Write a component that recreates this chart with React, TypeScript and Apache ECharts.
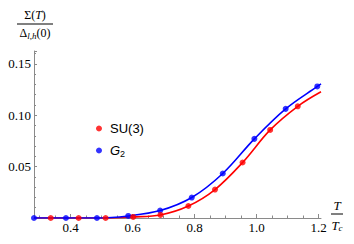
import React, { useEffect, useRef } from "react";
import * as echarts from "echarts";

// Data
const suTemps = [0.336, 0.426, 0.513, 0.602, 0.69, 0.78, 0.866, 0.955, 1.044, 1.133];
const suValues = [0, 0, 0, 0.001, 0.003, 0.0117, 0.0277, 0.054, 0.0857, 0.1087];
const g2Temps = [0.282, 0.385, 0.485, 0.586, 0.689, 0.791, 0.891, 0.993, 1.094, 1.196];
const g2Values = [0, 0, 0, 0.002, 0.0072, 0.0199, 0.0433, 0.077, 0.1062, 0.128];
// Fit-curve end points (beyond the dots)
const suCurveTemps = [0.282, ...suTemps, 1.208];
const suCurveValues = [0, ...suValues, 0.1228];
const g2CurveTemps = [...g2Temps, 1.208];
const g2CurveValues = [...g2Values, 0.1305];

const xMajorTicks = [0.4, 0.6, 0.8, 1.0, 1.2];
const xMinorTicks = [0.3, 0.35, 0.45, 0.5, 0.55, 0.65, 0.7, 0.75, 0.85, 0.9, 0.95, 1.05, 1.1, 1.15];
const xMin = 0.282;
const xMax = 1.208;
const yMax = 0.1625;

const RED = "#ff0000";
const BLUE = "#0000ff";
const AXIS = "#8a8a8a";
const SERIF = "'Liberation Serif', 'DejaVu Serif', serif";
const SANS = "'Liberation Sans', Arial, sans-serif";

const zip = (xs: number[], ys: number[]) => xs.map((x, i) => [x, ys[i]]);

export default function App() {
  const ref = useRef<HTMLDivElement>(null);
  useEffect(() => {
    if (!ref.current) return;
    const chart = echarts.init(ref.current, null, { renderer: "svg" });
    const baseX = {
      type: "value",
      min: xMin,
      max: xMax,
      gridIndex: 0,
      position: "bottom",
      splitLine: { show: false },
    };
    chart.setOption({
      animation: false,
      grid: { left: 34, right: 33, top: 51, bottom: 26 },
      legend: {
        orient: "vertical",
        left: 91,
        top: 117,
        itemWidth: 12,
        itemHeight: 6,
        itemGap: 9,
        icon: "circle",
        data: ["SU(3)", "G2"],
        formatter: (n: string) => (n === "G2" ? "{i|G}{s|2}" : n),
        textStyle: {
          fontFamily: SANS,
          fontSize: 13,
          color: "#000",
          rich: {
            i: { fontFamily: SANS, fontSize: 13, fontStyle: "italic", color: "#000" },
            s: { fontFamily: SANS, fontSize: 9, color: "#000", padding: [6, 0, 0, 0] },
          },
        },
      },
      xAxis: [
        {
          ...baseX,
          axisLine: { show: true, lineStyle: { color: AXIS, width: 1 } },
          axisTick: {
            show: true,
            inside: true,
            length: 4,
            customValues: xMajorTicks,
            lineStyle: { color: AXIS },
          },
          axisLabel: {
            show: true,
            customValues: xMajorTicks,
            formatter: (v: number) => v.toFixed(1),
            fontFamily: SERIF,
            fontSize: 13,
            color: "#000",
            margin: 3,
          },
        },
        {
          ...baseX,
          axisLine: { show: false },
          axisLabel: { show: false },
          axisTick: {
            show: true,
            inside: true,
            length: 2.5,
            customValues: xMinorTicks,
            lineStyle: { color: AXIS },
          },
        },
      ],
      yAxis: {
        type: "value",
        min: 0,
        max: yMax,
        interval: 0.05,
        splitLine: { show: false },
        axisLine: { show: true, lineStyle: { color: AXIS, width: 1 } },
        axisTick: { show: true, inside: true, length: 3, lineStyle: { color: AXIS } },
        minorTick: { show: true, splitNumber: 5, length: 2, lineStyle: { color: AXIS } },
        axisLabel: {
          showMinLabel: false,
          showMaxLabel: false,
          formatter: (v: number) => (v === 0 ? "" : v.toFixed(2)),
          fontFamily: SERIF,
          fontSize: 13,
          color: "#000",
          margin: 3,
        },
      },
      series: [
        {
          name: "SU(3) fit",
          type: "line",
          data: zip(suCurveTemps, suCurveValues),
          showSymbol: false,
          smooth: 0.35,
          lineStyle: { color: RED, width: 1.6 },
          itemStyle: { color: RED },
          z: 2,
        },
        {
          name: "G2 fit",
          type: "line",
          data: zip(g2CurveTemps, g2CurveValues),
          showSymbol: false,
          smooth: 0.35,
          lineStyle: { color: BLUE, width: 1.6 },
          itemStyle: { color: BLUE },
          z: 3,
        },
        {
          name: "G2",
          type: "scatter",
          data: zip(g2Temps, g2Values),
          symbol: "circle",
          symbolSize: 6,
          itemStyle: { color: BLUE },
          z: 4,
        },
        {
          name: "SU(3)",
          type: "scatter",
          data: zip(suTemps, suValues),
          symbol: "circle",
          symbolSize: 6,
          itemStyle: { color: RED },
          z: 5,
        },
      ],
      graphic: [
        {
          type: "text",
          x: 35,
          y: 15,
          style: {
            text: "Σ({i|T})",
            font: `12px ${SERIF}`,
            fill: "#000",
            align: "center",
            verticalAlign: "middle",
            rich: { i: { fontStyle: "italic", fontFamily: SERIF, fontSize: 12 } },
          },
        },
        {
          type: "line",
          shape: { x1: 17, y1: 24, x2: 53, y2: 24 },
          style: { stroke: "#000", lineWidth: 1 },
        },
        {
          type: "text",
          x: 35,
          y: 33,
          style: {
            text: "Δ{s|l,h}(0)",
            font: `12px ${SERIF}`,
            fill: "#000",
            align: "center",
            verticalAlign: "middle",
            rich: {
              s: { fontStyle: "italic", fontFamily: SERIF, fontSize: 9, padding: [5, 0, 0, 0] },
            },
          },
        },
        {
          type: "text",
          x: 337,
          y: 205,
          style: {
            text: "T",
            font: `italic 13px ${SERIF}`,
            fill: "#000",
            align: "center",
            verticalAlign: "middle",
          },
        },
        {
          type: "line",
          shape: { x1: 331, y1: 214, x2: 343, y2: 214 },
          style: { stroke: "#000", lineWidth: 1 },
        },
        {
          type: "text",
          x: 337,
          y: 225,
          style: {
            text: "T{s|c}",
            font: `italic 13px ${SERIF}`,
            fill: "#000",
            align: "center",
            verticalAlign: "middle",
            rich: {
              s: { fontStyle: "italic", fontFamily: SERIF, fontSize: 9, padding: [5, 0, 0, 0] },
            },
          },
        },
      ],
    });
    return () => chart.dispose();
  }, []);
  return (
    <div
      ref={ref}
      style={{ position: "fixed", left: 0, top: 0, width: 354, height: 244, background: "#fff" }}
    />
  );
}
